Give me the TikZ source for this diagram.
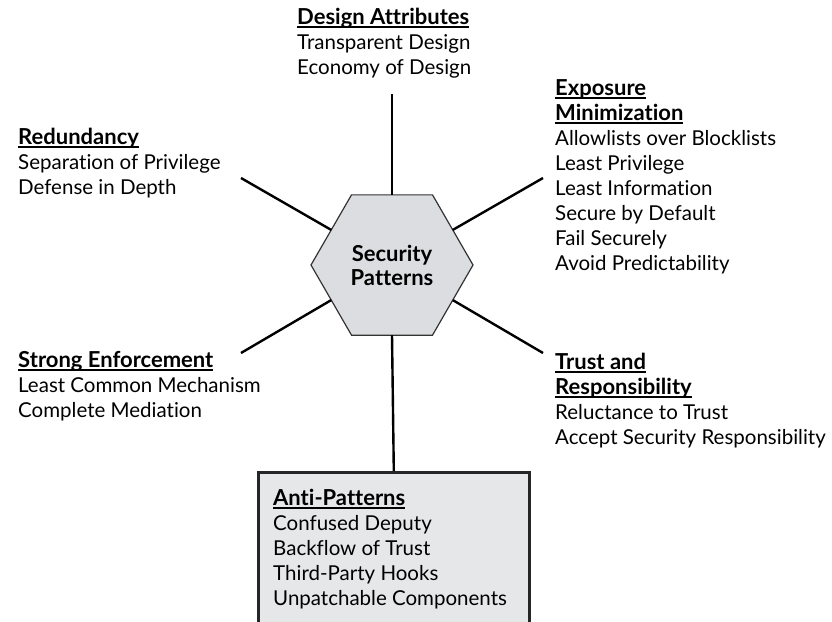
\documentclass[tikz,border=0pt]{standalone}
\usepackage{fontspec}
\setmainfont{Lato}[Ligatures=NoCommon]
\usetikzlibrary{shapes.geometric}
\definecolor{hexgray}{HTML}{DCDDE0}
\definecolor{boxgray}{HTML}{E6E7E8}
\def\hd#1{\setbox0\hbox{\bfseries\fontsize{22}{25}\selectfont #1}\rlap{\rule[-3.5pt]{\wd0}{1.8pt}}\box0}
\tikzset{
  grp/.style={anchor=base west, align=left, inner sep=0pt, font=\fontsize{20.5}{25}\selectfont},
  spoke/.style={line width=2.4pt},
}

\begin{document}
\begin{tikzpicture}[x=1pt, y=-1pt]
			%%%%% START %%%%%
			\useasboundingbox (0, 0) rectangle (832, 621);
			
			\node[draw=black!85, line width=2.6pt, fill=boxgray, anchor=north west, minimum width=271pt, minimum height=160pt] (anti) at (257, 471) {};
			
			\node[regular polygon, regular polygon sides=6, minimum size=162pt, inner sep=0pt, outer sep=0pt, fill=hexgray, draw=black!80, line width=1.2pt, align=center, font=\bfseries\fontsize{22}{24}\selectfont] (hex) at (392, 265) {Security\\Patterns};
			
			% nodes sit on the baseline of their last line
			\node[grp] (design) at (297, 74) {\hd{Design Attributes}\\Transparent Design\\Economy of Design};
			\node[grp] (redund) at (18, 194) {\hd{Redundancy}\\Separation of Privilege\\Defense in Depth};
			\node[grp] (expo) at (555, 270) {\hd{Exposure}\\\hd{Minimization}\\Allowlists over Blocklists\\Least Privilege\\Least Information\\Secure by Default\\Fail Securely\\Avoid Predictability};
			\node[grp] (strong) at (18, 417) {\hd{Strong Enforcement}\\Least Common Mechanism\\Complete Mediation};
			\node[grp] (trust) at (555, 444) {\hd{Trust and}\\\hd{Responsibility}\\Reluctance to Trust\\Accept Security Responsibility};
			\node[grp] (antitext) at (273, 605) {\hd{Anti-Patterns}\\Confused Deputy\\Backflow of Trust\\Third-Party Hooks\\Unpatchable Components};
			
			\coordinate (top) at (392, 94);
			\coordinate (ul) at (241, 178);
			\coordinate (ur) at (543, 178);
			\coordinate (ll) at (241, 353);
			\coordinate (lr) at (543, 353);
			
			\draw[spoke] (hex.north) -- (top);
			\draw[spoke] (hex.150) -- (ul);
			\draw[spoke] (hex.30) -- (ur);
			\draw[spoke] (hex.210) -- (ll);
			\draw[spoke] (hex.330) -- (lr);
			\draw[spoke] (hex.south) -- (anti.north);
			%%%%% END %%%%%
\end{tikzpicture}
\end{document}
